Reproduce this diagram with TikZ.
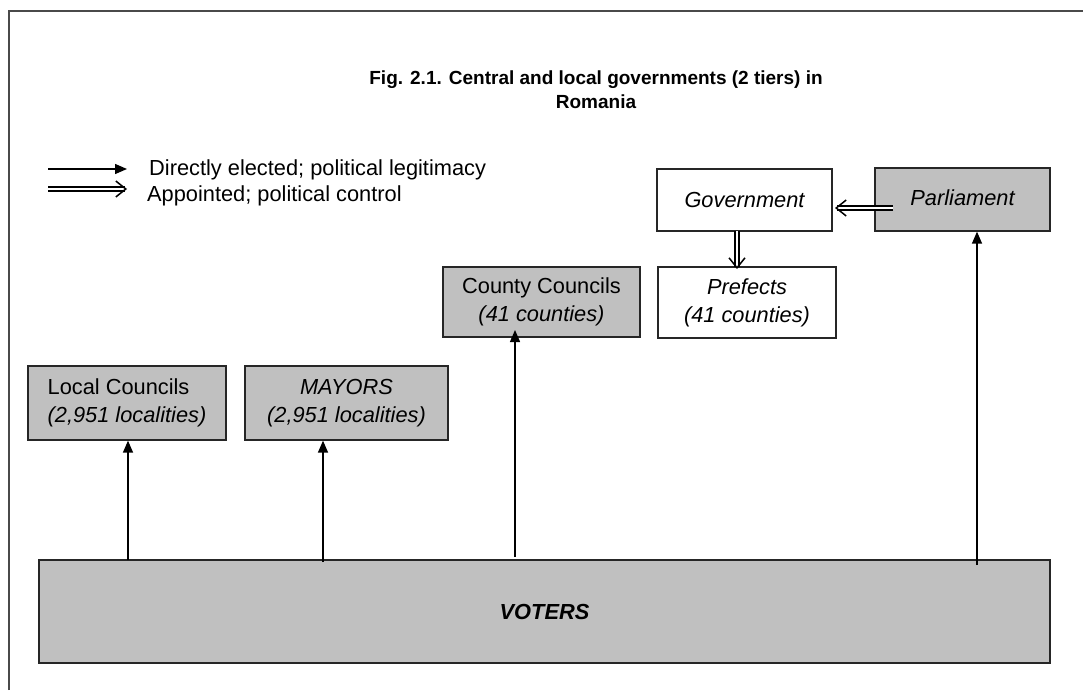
\documentclass[tikz,border=0pt]{standalone}
\usepackage{fontspec}
\setmainfont{Liberation Sans}
\usetikzlibrary{arrows.meta,decorations.markings}
\definecolor{boxgray}{HTML}{C0C0C0}
\definecolor{framegray}{HTML}{4A4A4A}
\definecolor{edgegray}{HTML}{262626}
\begin{document}
\begin{tikzpicture}[x=1pt,y=-1pt,
  box/.style={draw=edgegray, line width=1.3pt, inner sep=0pt, align=center,
    font=\fontsize{21.8}{28}\selectfont},
  gbox/.style={box, fill=boxgray},
  wbox/.style={box, fill=white},
  elect/.style={line width=1.4pt, -{Triangle[length=12pt,width=10pt]}},
  appoint/.style={double, double distance=2.2pt, line width=1.5pt, shorten >=2pt,
    postaction={decorate, decoration={markings, mark=at position 1 with
      {\arrow[line width=1.5pt]{Straight Barb[length=10pt,width=16pt]}}}}},
  legtext/.style={anchor=west, inner sep=0pt, font=\fontsize{21.8}{24}\selectfont},
  titletext/.style={align=center, inner sep=0pt, font=\bfseries\fontsize{19}{24}\selectfont}]
\useasboundingbox (0,0) rectangle (1083,690);
% outer frame
\draw[framegray, line width=2pt] (9,690) -- (9,11) -- (1083,11);
% title
\node[titletext] (title) at (596,90) {Fig. 2.1. Central and local governments (2 tiers) in\\Romania};
% legend
\coordinate (la1s) at (48,169);
\coordinate (la1e) at (127,169);
\coordinate (la2s) at (48,189);
\coordinate (la2e) at (127,189);
\draw[elect] (la1s) -- (la1e);
\draw[appoint] (la2s) -- (la2e);
\node[legtext] (leg1) at (149,170) {Directly elected; political legitimacy};
\node[legtext] (leg2) at (147,196) {Appointed; political control};
% boxes
\node[wbox, minimum width=175pt, minimum height=62pt] (gov) at (744.5,200) {\itshape Government};
\node[gbox, minimum width=175pt, minimum height=63pt] (parl) at (962.5,199.5) {\raisebox{3pt}{\itshape Parliament}};
\node[wbox, minimum width=178pt, minimum height=71pt] (pref) at (747,302.5) {\itshape Prefects\\\itshape (41 counties)};
\node[gbox, minimum width=197pt, minimum height=70pt] (county) at (541.5,302) {County Councils\\\itshape (41 counties)};
\node[gbox, minimum width=198pt, minimum height=74pt] (local) at (127,403) {\begin{tabular}{@{}l@{}}Local Councils\\\itshape (2,951 localities)\end{tabular}};
\node[gbox, minimum width=203pt, minimum height=74pt] (mayor) at (346.5,403) {\itshape MAYORS\\\itshape (2,951 localities)};
\node[gbox, minimum width=1011pt, minimum height=103pt] (voters) at (544.5,611.5) {\bfseries\itshape VOTERS};
% appointment arrows
\coordinate (pg) at (893,208);
\coordinate (pgend) at (835,208);
\draw[appoint] (pg) -- (pgend);
\coordinate (gp) at (737,231);
\coordinate (gpend) at (737,269);
\draw[appoint] (gp) -- (gpend);
% election arrows
\coordinate (v1) at (128,560);
\coordinate (v2) at (323,562);
\coordinate (v3) at (515,557);
\coordinate (v4) at (977,565);
\coordinate (c3) at (515,330);
\draw[elect] (v1) -- (v1 |- local.south);
\draw[elect] (v2) -- (v2 |- mayor.south);
\draw[elect] (v3) -- (c3);
\draw[elect] (v4) -- (v4 |- parl.south);
\end{tikzpicture}
\end{document}
